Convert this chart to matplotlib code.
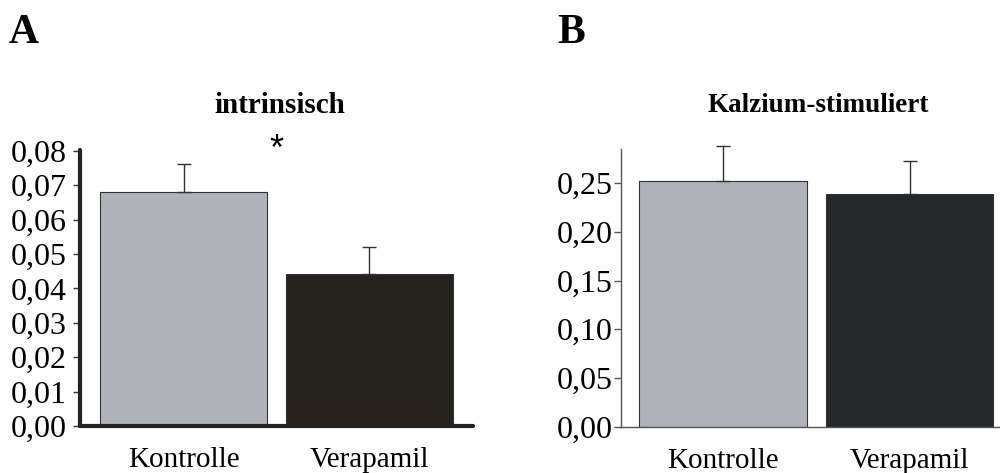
import numpy as np
import matplotlib.pyplot as plt

# Werte
groups = ["Kontrolle", "Verapamil"]
intr_mean = [0.0679, 0.0441]
intr_err = [0.0081, 0.0079]
kalz_mean = [0.2523, 0.2389]
kalz_err = [0.0356, 0.0342]
intr_ticks = [0.00, 0.01, 0.02, 0.03, 0.04, 0.05, 0.06, 0.07, 0.08]
kalz_ticks = [0.00, 0.05, 0.10, 0.15, 0.20, 0.25]

plt.rcParams['font.family'] = ['Liberation Serif', 'DejaVu Serif']

light = '#b0b3ba'
darkA = '#25221e'
darkB = '#25282b'

fig = plt.figure(figsize=(10, 4.73), dpi=100)

# Panel A
axA = fig.add_axes([0.080, 0.0994, 0.393, 0.5835])
x = np.arange(len(groups))
axA.bar(x, intr_mean, width=0.9, color=[light, darkA], edgecolor='#333333', linewidth=0.8)
axA.errorbar(x, intr_mean, yerr=[[0, 0], intr_err], fmt='none', ecolor='#333333',
             elinewidth=1, capsize=5, capthick=1)
axA.set_xlim(-0.56, 1.56)
axA.set_ylim(0, 0.0802)
axA.set_yticks(intr_ticks)
axA.set_yticklabels([f"{t:.2f}".replace('.', ',') for t in intr_ticks])
axA.set_xticks(x)
axA.set_xticklabels(groups)
for s in ['top', 'right']:
    axA.spines[s].set_visible(False)
for s in ['left', 'bottom']:
    axA.spines[s].set_linewidth(3)
    axA.spines[s].set_color('#222222')
    axA.spines[s].set_capstyle('round')
axA.tick_params(axis='y', length=5, width=1, color='#333333', pad=4.5, labelsize=23)
axA.tick_params(axis='x', length=0, pad=15, labelsize=21)

# Panel B
axB = fig.add_axes([0.621, 0.0979, 0.379, 0.587])
axB.bar(x, kalz_mean, width=0.9, color=[light, darkB], edgecolor='#333333', linewidth=0.8)
axB.errorbar(x, kalz_mean, yerr=[[0, 0], kalz_err], fmt='none', ecolor='#333333',
             elinewidth=1, capsize=5, capthick=1, clip_on=False)
axB.set_xlim(-0.547, 1.485)
axB.set_ylim(0, 0.285)
axB.set_yticks(kalz_ticks)
axB.set_yticklabels([f"{t:.2f}".replace('.', ',') for t in kalz_ticks])
axB.set_xticks(x)
axB.set_xticklabels(groups)
for s in ['top', 'right']:
    axB.spines[s].set_visible(False)
for s in ['left', 'bottom']:
    axB.spines[s].set_linewidth(1)
    axB.spines[s].set_color('#555555')
axB.tick_params(axis='y', length=5, width=1, color='#555555', pad=1, labelsize=23)
axB.tick_params(axis='x', length=0, pad=15, labelsize=21)

# Beschriftungen
fig.text(0.009, 0.909, 'A', fontsize=30, fontweight='bold', va='baseline')
fig.text(0.557, 0.909, 'B', fontsize=30, fontweight='bold', va='baseline')
fig.text(0.280, 0.761, 'intrinsisch', fontsize=21, fontweight='bold', ha='center', va='baseline')
fig.text(0.818, 0.764, 'Kalzium-stimuliert', fontsize=19.5, fontweight='bold', ha='center', va='baseline')
fig.text(0.276, 1 - 150 / 473, '*', fontsize=26, ha='center', va='center',
         family=['Liberation Sans', 'DejaVu Sans'])

fig.savefig('out.png', dpi=100)
